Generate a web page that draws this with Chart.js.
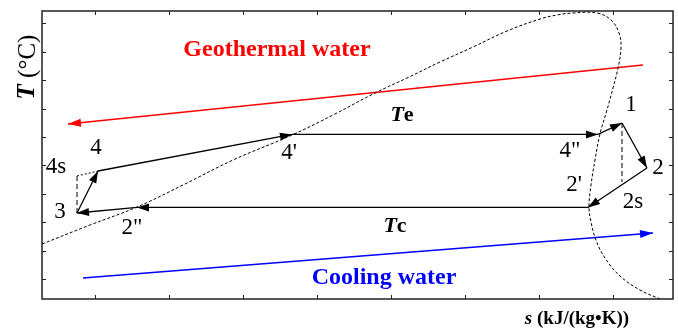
<!DOCTYPE html>
<html>
<head>
<meta charset="utf-8">
<script src="https://cdn.jsdelivr.net/npm/chart.js@4.4.1/dist/chart.umd.min.js"></script>
<style>
  body { margin: 0; background: #fff; }
  #wrap { width: 678px; height: 328px; }
</style>
</head>
<body>
<div id="wrap"><canvas id="tsChart" width="678" height="328"></canvas></div>
<script>
// tick positions (no tick labels on the original)
const sTicks = [1, 2, 3, 4, 5, 6, 7, 8];
const tTicks = [1, 2, 3, 4, 5, 6, 7, 8, 9, 10];

// saturation dome (dotted)
const domeS = [0.284, 0.932, 1.568, 2.216, 2.865, 3.662, 4.243, 4.784, 5.230, 5.662, 6.108, 6.568, 7.014, 7.243, 7.459, 7.784, 7.973, 8.081, 8.108, 8.068, 8.0, 7.919, 7.824, 7.757, 7.703, 7.676, 7.703, 7.770, 7.892, 8.095, 8.365, 8.635];
const domeT = [2.232, 2.901, 3.535, 4.345, 5.190, 6.070, 6.810, 7.549, 8.095, 8.641, 9.169, 9.732, 10.155, 10.296, 10.366, 10.366, 10.120, 9.662, 9.134, 8.430, 7.725, 6.951, 6.106, 5.190, 4.310, 3.535, 3.007, 2.373, 1.739, 1.106, 0.613, 0.296];

// cycle state points
const stateNames = ['1', '2', '2s', "2'", '2"', '3', '4s', '4', "4'", '4"'];
const stateS = [8.122, 8.459, 8.122, 7.662, 1.568, 0.757, 0.757, 1.041, 3.662, 7.797];
const stateT = [6.493, 4.908, 4.415, 3.52, 3.52, 3.324, 4.627, 4.803, 6.09, 6.09];

// process paths between states
const solidPaths = [['3', '4'], ['4', "4'"], ["4'", '4"'], ['4"', '1'], ['1', '2'], ['2', "2'"], ["2'", '2"'], ['2"', '3']];
const dashedPaths = [['1', '2s'], ['3', '4s']];
const dottedPaths = [['4s', '4']];

// heat source / sink streams
const geoS = [8.405, 0.635];
const geoT = [8.535, 6.458];
const coolS = [0.838, 8.541];
const coolT = [1.035, 2.62];

function statePoint(name) {
    let i = stateNames.indexOf(name);
    return { x: stateS[i], y: stateT[i] };
}

let datasets = [];
datasets.push({
    data: domeS.map((s, i) => ({ x: s, y: domeT[i] })),
    borderColor: '#000', borderWidth: 1, borderDash: [3, 2], tension: 0.4
});
solidPaths.forEach(p => {
    datasets.push({
        data: [statePoint(p[0]), statePoint(p[1])],
        borderColor: '#000', borderWidth: 1.3, arrow: { len: 12, w: 8 }
    });
});
dashedPaths.forEach(p => {
    datasets.push({
        data: [statePoint(p[0]), statePoint(p[1])],
        borderColor: '#000', borderWidth: 1, borderDash: [5, 3]
    });
});
dottedPaths.forEach(p => {
    datasets.push({
        data: [statePoint(p[0]), statePoint(p[1])],
        borderColor: '#000', borderWidth: 1, borderDash: [2, 2]
    });
});
datasets.push({
    data: geoS.map((s, i) => ({ x: s, y: geoT[i] })),
    borderColor: '#ff0000', borderWidth: 1.5, arrow: { len: 13, w: 8 }
});
datasets.push({
    data: coolS.map((s, i) => ({ x: s, y: coolT[i] })),
    borderColor: '#0000ff', borderWidth: 1.5, arrow: { len: 13, w: 8 }
});

// label offsets from the state point, px
const labelOffsets = {
    '1': [9, -18], '2': [11, 0], '2s': [11, 20], "2'": [-14, -22], '2"': [-5, 21],
    '3': [-17, -1], '4s': [-21, -9], '4': [-2, -23], "4'": [-3, 19], '4"': [-28, 17]
};

const SERIF = '"Liberation Serif", "Times New Roman", serif';

// draws a line of text made of differently styled parts, centered at cx, cy
function drawParts(ctx, parts, cx, cy) {
    let total = 0;
    parts.forEach(p => { ctx.font = p.font; total += ctx.measureText(p.text).width; });
    let x = cx - total / 2;
    ctx.textAlign = 'left';
    ctx.textBaseline = 'middle';
    parts.forEach(p => {
        ctx.font = p.font;
        ctx.fillStyle = p.color || '#000';
        ctx.fillText(p.text, x, cy);
        x += ctx.measureText(p.text).width;
    });
}

const decorPlugin = {
    id: 'decor',
    afterDatasetsDraw(chart) {
        const ctx = chart.ctx;
        const area = chart.chartArea;
        const xs = chart.scales.x;
        const ys = chart.scales.y;

        // arrow heads at the end of each flagged path
        chart.data.datasets.forEach((ds, i) => {
            if (!ds.arrow) return;
            let pts = chart.getDatasetMeta(i).data;
            let a = pts[pts.length - 2], b = pts[pts.length - 1];
            let ang = Math.atan2(b.y - a.y, b.x - a.x);
            ctx.save();
            ctx.translate(b.x, b.y);
            ctx.rotate(ang);
            ctx.beginPath();
            ctx.moveTo(0, 0);
            ctx.lineTo(-ds.arrow.len, ds.arrow.w / 2);
            ctx.lineTo(-ds.arrow.len, -ds.arrow.w / 2);
            ctx.closePath();
            ctx.fillStyle = ds.borderColor;
            ctx.fill();
            ctx.restore();
        });

        // frame and inward ticks on all four sides
        ctx.save();
        ctx.strokeStyle = '#222';
        ctx.lineWidth = 1.5;
        ctx.strokeRect(area.left, area.top, area.right - area.left, area.bottom - area.top);
        ctx.lineWidth = 1;
        ctx.beginPath();
        sTicks.forEach(v => {
            let px = Math.round(xs.getPixelForValue(v)) + 0.5;
            ctx.moveTo(px, area.bottom); ctx.lineTo(px, area.bottom - 4);
            ctx.moveTo(px, area.top); ctx.lineTo(px, area.top + 4);
        });
        tTicks.forEach(v => {
            let py = Math.round(ys.getPixelForValue(v)) + 0.5;
            ctx.moveTo(area.left, py); ctx.lineTo(area.left + 4, py);
            ctx.moveTo(area.right, py); ctx.lineTo(area.right - 4, py);
        });
        ctx.stroke();
        ctx.restore();

        ctx.save();
        // state labels
        ctx.font = '23px ' + SERIF;
        ctx.fillStyle = '#000';
        ctx.textAlign = 'center';
        ctx.textBaseline = 'middle';
        stateNames.forEach((n, i) => {
            let off = labelOffsets[n];
            let px = xs.getPixelForValue(stateS[i]) + off[0];
            let py = ys.getPixelForValue(stateT[i]) + off[1];
            ctx.fillText(n, px, py);
        });

        // stream names
        ctx.font = 'bold 24px ' + SERIF;
        ctx.fillStyle = '#ff0000';
        ctx.fillText('Geothermal water', xs.getPixelForValue(3.459), ys.getPixelForValue(9.063));
        ctx.fillStyle = '#0000ff';
        ctx.fillText('Cooling water', xs.getPixelForValue(4.905), ys.getPixelForValue(1.035));

        // evaporating / condensing temperatures
        drawParts(ctx, [
            { text: 'T', font: 'italic bold 22px ' + SERIF },
            { text: 'e', font: 'bold 22px ' + SERIF }
        ], xs.getPixelForValue(5.149), ys.getPixelForValue(6.775));
        drawParts(ctx, [
            { text: 'T', font: 'italic bold 22px ' + SERIF },
            { text: 'c', font: 'bold 22px ' + SERIF }
        ], xs.getPixelForValue(5.054), ys.getPixelForValue(2.866));

        // axis titles
        drawParts(ctx, [
            { text: 's', font: 'italic bold 19px ' + SERIF },
            { text: ' (kJ/(kg\u2022K))', font: 'bold 19px ' + SERIF }
        ], 577, area.bottom + 20);

        ctx.translate(area.left - 14, 67);
        ctx.rotate(-Math.PI / 2);
        drawParts(ctx, [
            { text: 'T', font: 'italic bold 25px ' + SERIF },
            { text: ' (\u00B0C)', font: '25px ' + SERIF }
        ], 0, 0);
        ctx.restore();
    }
};

new Chart(document.getElementById('tsChart'), {
    type: 'scatter',
    data: { datasets: datasets },
    options: {
        responsive: false,
        animation: false,
        showLine: true,
        layout: { padding: { left: 42, right: 5, top: 11, bottom: 29 } },
        elements: { point: { radius: 0, hoverRadius: 0 } },
        plugins: { legend: { display: false }, tooltip: { enabled: false } },
        scales: {
            x: { type: 'linear', min: 0.284, max: 8.811, display: false },
            y: { type: 'linear', min: 0.296, max: 10.437, display: false }
        }
    },
    plugins: [decorPlugin]
});
</script>
</body>
</html>
